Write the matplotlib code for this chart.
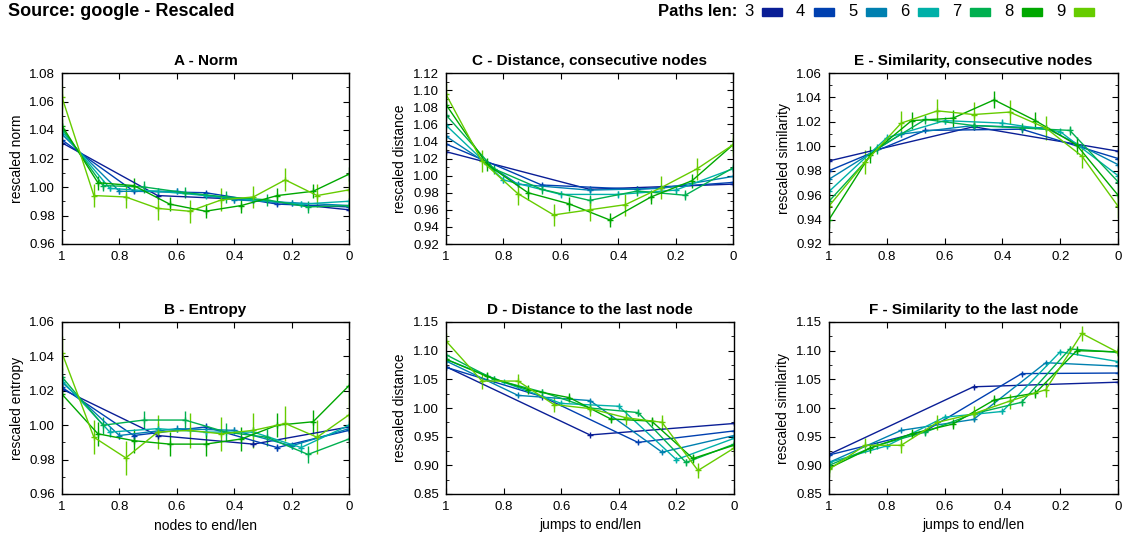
import numpy as np
import matplotlib.pyplot as plt
from matplotlib.patches import Rectangle

plt.rcParams['font.family'] = ['Liberation Sans', 'DejaVu Sans']

# path lengths and their colours
lens = [3, 4, 5, 6, 7, 8, 9]
colors = ['#0A1E96', '#0040B0', '#0080B0', '#00B0A8', '#00B050', '#00A800', '#66CC00']

# A - Norm (L+1 points per path length, x = nodes to end/len)
norm = [
    [1.031, 0.994, 0.991, 0.984],
    [1.033, 0.997, 0.996, 0.988, 0.986],
    [1.037, 0.997, 0.997, 0.991, 0.989, 0.987],
    [1.039, 0.999, 0.997, 0.994, 0.991, 0.988, 0.990],
    [1.041, 1.001, 1.000, 0.996, 0.993, 0.991, 0.986, 0.987],
    [1.043, 1.003, 1.001, 0.988, 0.983, 0.987, 0.994, 0.997, 1.009],
    [1.063, 0.994, 0.993, 0.985, 0.983, 0.991, 0.993, 1.005, 0.994, 0.998],
]
norm_err = [0.001, 0.001, 0.002, 0.002, 0.004, 0.005, 0.008]

# B - Entropy
entropy = [
    [1.021, 0.994, 0.989, 0.999],
    [1.022, 0.994, 0.999, 0.987, 0.997],
    [1.025, 0.994, 0.998, 0.997, 0.988, 0.998],
    [1.026, 0.996, 0.998, 0.996, 0.996, 0.987, 1.000],
    [1.028, 1.000, 1.003, 1.003, 0.996, 0.993, 0.983, 0.992],
    [1.018, 0.995, 0.991, 0.989, 0.989, 0.992, 1.000, 1.002, 1.023],
    [1.042, 0.993, 0.981, 0.996, 0.997, 0.995, 0.997, 1.001, 0.993, 1.006],
]
entropy_err = [0.001, 0.002, 0.002, 0.003, 0.005, 0.007, 0.010]

# C - Distance, consecutive nodes (L points, x = jumps to end/len)
dist_cons = [
    [1.028, 0.984, 0.990],
    [1.037, 0.989, 0.984, 0.992],
    [1.046, 0.990, 0.983, 0.985, 0.999],
    [1.059, 0.995, 0.978, 0.978, 0.983, 1.008],
    [1.071, 1.008, 0.984, 0.971, 0.982, 0.977, 1.009],
    [1.083, 1.013, 0.980, 0.967, 0.948, 0.975, 0.994, 1.036],
    [1.095, 1.017, 0.979, 0.954, 0.960, 0.966, 0.986, 1.008, 1.036],
]
dist_cons_err = [0.001, 0.002, 0.003, 0.004, 0.006, 0.008, 0.013]

# E - Similarity, consecutive nodes
sim_cons = [
    [0.988, 1.016, 0.996],
    [0.980, 1.013, 1.014, 0.990],
    [0.973, 1.010, 1.017, 1.015, 0.985],
    [0.963, 1.007, 1.021, 1.019, 1.012, 0.976],
    [0.955, 0.998, 1.022, 1.017, 1.015, 1.013, 0.971],
    [0.940, 0.993, 1.021, 1.023, 1.038, 1.021, 1.001, 0.960],
    [0.951, 0.987, 1.019, 1.029, 1.026, 1.028, 1.015, 0.992, 0.951],
]
sim_cons_err = [0.001, 0.001, 0.002, 0.003, 0.004, 0.007, 0.010]

# D - Distance to the last node
dist_last = [
    [1.072, 0.953, 0.973],
    [1.071, 1.020, 0.940, 0.960],
    [1.082, 1.022, 1.013, 0.923, 0.952],
    [1.085, 1.045, 1.008, 1.003, 0.910, 0.947],
    [1.093, 1.050, 1.028, 1.000, 0.992, 0.905, 0.937],
    [1.085, 1.055, 1.032, 1.018, 0.981, 0.977, 0.912, 0.935],
    [1.117, 1.047, 1.047, 1.006, 0.999, 0.983, 0.975, 0.891, 0.930],
]
dist_last_err = [0.002, 0.002, 0.003, 0.004, 0.006, 0.008, 0.013]

# F - Similarity to the last node
sim_last = [
    [0.919, 1.037, 1.045],
    [0.918, 0.960, 1.060, 1.061],
    [0.905, 0.961, 0.980, 1.079, 1.073],
    [0.905, 0.934, 0.984, 0.994, 1.098, 1.081],
    [0.900, 0.935, 0.958, 0.990, 1.010, 1.103, 1.097],
    [0.895, 0.930, 0.955, 0.972, 1.014, 1.026, 1.100, 1.098],
    [0.893, 0.935, 0.935, 0.975, 0.990, 1.012, 1.032, 1.130, 1.097],
]
sim_last_err = [0.002, 0.002, 0.003, 0.004, 0.006, 0.008, 0.013]

W, H = 1125, 540


def px_rect(left, top, right, bottom):
    return [left / W, 1 - bottom / H, (right - left) / W, (bottom - top) / H]


panels = [
    # data, err, title, ylabel, xlabel, ylim, ystep, extra point, rect
    (norm, norm_err, 'A - Norm', 'rescaled norm', None, (0.96, 1.08), 0.02, 1, px_rect(62, 73, 349, 244)),
    (entropy, entropy_err, 'B - Entropy', 'rescaled entropy', 'nodes to end/len', (0.96, 1.06), 0.02, 1, px_rect(62, 322, 349, 494)),
    (dist_cons, dist_cons_err, 'C - Distance, consecutive nodes', 'rescaled distance', None, (0.92, 1.12), 0.02, 0, px_rect(446, 73, 733, 244)),
    (dist_last, dist_last_err, 'D - Distance to the last node', 'rescaled distance', 'jumps to end/len', (0.85, 1.15), 0.05, 0, px_rect(446, 322, 734, 494)),
    (sim_cons, sim_cons_err, 'E - Similarity, consecutive nodes', 'rescaled similarity', None, (0.92, 1.06), 0.02, 0, px_rect(829, 73, 1118, 244)),
    (sim_last, sim_last_err, 'F - Similarity to the last node', 'rescaled similarity', 'jumps to end/len', (0.85, 1.15), 0.05, 0, px_rect(829, 322, 1118, 494)),
]

fig = plt.figure(figsize=(W / 100, H / 100), dpi=100)

for data, err, title, ylabel, xlabel, ylim, ystep, extra, rect in panels:
    ax = fig.add_axes(rect)
    for L, col, vals, e in zip(lens, colors, data, err):
        n = L + extra
        x = np.linspace(1, 0, n)
        ax.errorbar(x, vals, yerr=e, color=col, lw=1, marker='+', ms=5, mew=1,
                    elinewidth=1, capsize=0)
    ax.set_xlim(1, 0)
    ax.set_ylim(*ylim)
    ax.set_xticks([1, 0.8, 0.6, 0.4, 0.2, 0])
    ax.set_xticklabels(['1', '0.8', '0.6', '0.4', '0.2', '0'])
    yt = np.arange(ylim[0], ylim[1] + ystep / 2, ystep)
    ax.set_yticks(yt)
    ax.set_yticklabels(['%.2f' % v for v in yt])
    ax.set_yticks(np.arange(ylim[0] + ystep / 2, ylim[1], ystep), minor=True)
    ax.tick_params(direction='in', top=True, right=True, labelsize=9.5, length=4, pad=5)
    ax.tick_params(which='minor', direction='in', right=True, length=2)
    for s in ax.spines.values():
        s.set_linewidth(1)
    ax.set_title(title, fontsize=11, fontweight='bold', pad=6)
    ax.set_ylabel(ylabel, fontsize=10)
    if xlabel:
        ax.set_xlabel(xlabel, fontsize=10)

fig.text(8 / W, 1 - 11 / H, 'Source: google - Rescaled', fontsize=13, fontweight='bold',
         ha='left', va='center')

# legend across the top right
fig.text(737 / W, 1 - 12 / H, 'Paths len:', fontsize=12, fontweight='bold', ha='right', va='center')
for i, (L, col) in enumerate(zip(lens, colors)):
    x0 = 744 + 52 * i
    fig.text(x0 / W, 1 - 12 / H, str(L), fontsize=12, ha='left', va='center')
    fig.add_artist(Rectangle(((x0 + 18) / W, 1 - 16 / H), 20 / W, 8 / H,
                             transform=fig.transFigure, color=col))

fig.savefig('out.png', dpi=100)
